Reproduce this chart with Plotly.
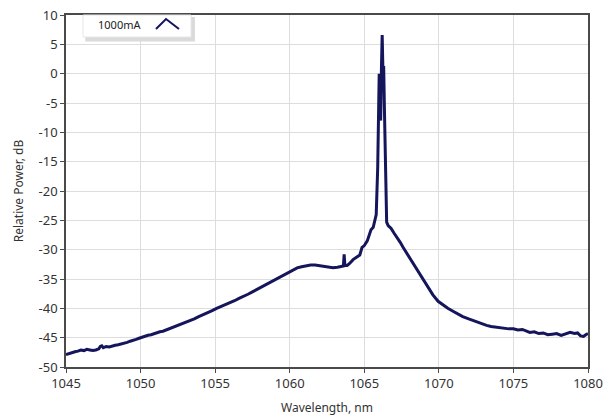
import plotly.graph_objects as go

# Wavelength (nm) and relative power (dB)
wavelength = [
    1045.0, 1045.2, 1045.4, 1045.6, 1045.8, 1046.0, 1046.2, 1046.4, 1046.6, 1046.8,
    1047.0, 1047.2, 1047.3, 1047.4, 1047.5, 1047.7, 1047.9, 1048.1, 1048.3, 1048.5,
    1048.7, 1048.9, 1049.1, 1049.3, 1049.5, 1049.7, 1049.9, 1050.1, 1050.3, 1050.5,
    1050.7, 1050.9, 1051.1, 1051.3, 1051.5, 1051.7, 1051.9, 1052.1, 1052.4, 1052.7,
    1053.0, 1053.3, 1053.6, 1053.9, 1054.2, 1054.5, 1054.8, 1055.1, 1055.4, 1055.7,
    1056.0, 1056.3, 1056.6, 1056.9, 1057.2, 1057.5, 1057.8, 1058.1, 1058.4, 1058.7,
    1059.0, 1059.3, 1059.6, 1059.9, 1060.2, 1060.5, 1060.8, 1061.1, 1061.4, 1061.7,
    1062.0, 1062.3, 1062.6, 1062.9, 1063.2, 1063.45, 1063.6, 1063.65, 1063.7, 1063.85,
    1064.0, 1064.25, 1064.5, 1064.7, 1064.85, 1065.0, 1065.2, 1065.45, 1065.6, 1065.7,
    1065.8, 1065.9, 1065.95, 1066.0, 1066.05, 1066.1, 1066.15, 1066.2, 1066.25, 1066.3,
    1066.35, 1066.4, 1066.45, 1066.5, 1066.6, 1066.8, 1067.0, 1067.2, 1067.4, 1067.6,
    1067.8, 1068.0, 1068.3, 1068.6, 1068.9, 1069.3, 1069.6, 1069.95, 1070.3, 1070.6,
    1070.95, 1071.3, 1071.6, 1072.0, 1072.3, 1072.6, 1072.9, 1073.2, 1073.5, 1073.8,
    1074.1, 1074.4, 1074.7, 1075.0, 1075.3, 1075.6, 1075.9, 1076.1, 1076.4, 1076.7,
    1077.0, 1077.3, 1077.6, 1077.9, 1078.2, 1078.5, 1078.8, 1079.1, 1079.3, 1079.5,
    1079.7, 1079.85, 1080.0,
]
power = [
    -47.9, -47.7, -47.6, -47.4, -47.3, -47.1, -47.2, -47.0, -47.1, -47.2,
    -47.1, -46.9, -46.5, -46.4, -46.7, -46.5, -46.6, -46.4, -46.3, -46.2,
    -46.1, -45.9, -45.8, -45.6, -45.5, -45.3, -45.1, -44.9, -44.8, -44.6,
    -44.5, -44.3, -44.2, -44.0, -43.9, -43.7, -43.5, -43.4, -43.0, -42.8,
    -42.4, -42.1, -41.8, -41.4, -41.1, -40.8, -40.4, -40.0, -39.7, -39.4,
    -39.0, -38.7, -38.3, -38.0, -37.6, -37.2, -36.8, -36.3, -35.9, -35.5,
    -35.1, -34.7, -34.3, -33.9, -33.5, -33.1, -32.9, -32.7, -32.6, -32.6,
    -32.7, -32.8, -32.9, -33.1, -33.0, -32.9, -32.8, -30.8, -32.7, -32.7,
    -32.4, -31.7, -31.3, -30.9, -29.6, -29.3, -28.5, -26.6, -26.2, -25.0,
    -24.0, -16.0, -6.0, 0.0, -3.0, -8.0, 1.0, 6.6, 0.5, 1.3,
    -6.0, -14.0, -22.0, -25.3, -25.9, -26.4, -27.2, -27.9, -28.7, -29.6,
    -30.4, -31.2, -32.4, -33.7, -35.0, -36.6, -37.7, -38.8, -39.5, -40.0,
    -40.5, -41.0, -41.4, -41.8, -42.1, -42.4, -42.6, -42.9, -43.1, -43.2,
    -43.4, -43.4, -43.5, -43.5, -43.7, -43.6, -43.9, -44.1, -44.0, -44.3,
    -44.2, -44.5, -44.4, -44.3, -44.6, -44.3, -44.1, -44.3, -44.2, -44.7,
    -44.8, -44.5, -44.3,
]

series_name = "1000mA"
x_ticks = [1045, 1050, 1055, 1060, 1065, 1070, 1075, 1080]
y_ticks = [10, 5, 0, -5, -10, -15, -20, -25, -30, -35, -40, -45, -50]

navy = "#15155c"
axis_col = "#4a4a4a"
grid_col = "#dddddd"
font_fam = "Noto Sans, DejaVu Sans, sans-serif"

fig = go.Figure()
fig.add_trace(go.Scatter(
    x=wavelength, y=power, mode="lines", name=series_name,
    line=dict(color=navy, width=3), showlegend=False,
))

fig.update_layout(
    width=611, height=418,
    margin=dict(l=66, r=23, t=15, b=51, autoexpand=False),
    paper_bgcolor="white", plot_bgcolor="white",
    font=dict(family=font_fam, size=13, color="#333333"),
)
fig.update_xaxes(
    range=[1045, 1080], tickvals=x_ticks, ticktext=[str(v) for v in x_ticks],
    showgrid=True, gridcolor=grid_col, gridwidth=1,
    showline=True, linecolor=axis_col, linewidth=1.5, mirror=True,
    ticks="outside", ticklen=4, tickcolor=axis_col, zeroline=False,
    automargin=False, ticklabeloverflow="allow",
    title=dict(text="Wavelength, nm", font=dict(size=12, color="#333333"), standoff=12),
)
fig.update_yaxes(
    range=[-50, 10], tickvals=y_ticks, ticktext=[str(v) for v in y_ticks],
    showgrid=True, gridcolor=grid_col, gridwidth=1,
    showline=True, linecolor=axis_col, linewidth=1.5, mirror=True,
    ticks="outside", ticklen=4, tickcolor=axis_col, zeroline=False,
    automargin=False, ticklabeloverflow="allow",
    title=dict(text="Relative Power, dB", font=dict(size=12, color="#333333"), standoff=12),
)

# Legend-like box with shadow and caret-shaped line icon
fig.add_shape(type="rect", xref="paper", yref="paper",
              x0=0.037, x1=0.247, y0=0.925, y1=0.994,
              fillcolor="#dadada", line=dict(width=0), layer="above")
fig.add_shape(type="rect", xref="paper", yref="paper",
              x0=0.0326, x1=0.2395, y0=0.9375, y1=1.0,
              fillcolor="white", line=dict(color="#e6e6e6", width=1), layer="above")
fig.add_shape(type="path", xref="paper", yref="paper",
              path="M 0.1724 0.960 L 0.1916 0.9886 L 0.2165 0.960",
              line=dict(color=navy, width=2), layer="above")
fig.add_annotation(xref="paper", yref="paper", x=0.103, y=0.9716,
                   text=series_name, showarrow=False,
                   font=dict(size=11, color="#222222"), xanchor="center", yanchor="middle")

# remove the browser's default 8px body margin so the figure sits at the page origin
fig.write_html("out.html", config={"displayModeBar": False},
               post_script="document.body.style.margin='0px';")
